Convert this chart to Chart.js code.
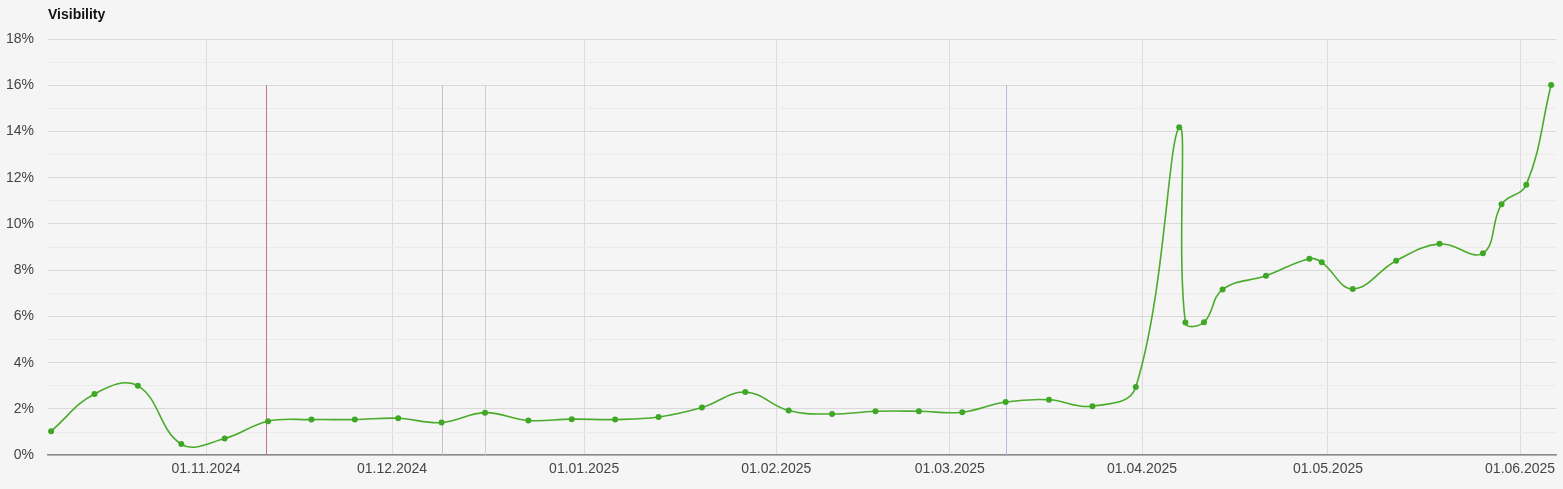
<!DOCTYPE html>
<html>
<head>
<meta charset="utf-8">
<script src="https://cdn.jsdelivr.net/npm/chart.js@4"></script>
<style>
    html, body { margin: 0; padding: 0; background: #f5f5f5; }
    #wrap { position: relative; width: 1563px; height: 489px; }
    #title {
        position: absolute; left: 48px; top: 6px;
        font: bold 14px "Liberation Sans", Arial, sans-serif; color: #111;
    }
</style>
</head>
<body>
<div id="wrap">
    <div id="title">Visibility</div>
    <canvas id="visChart"></canvas>
</div>
<script>
/* ---------------------------------------------------
    Data
---------------------------------------------------*/
const pointDates = [
    "2024-10-07", "2024-10-14", "2024-10-21", "2024-10-28", "2024-11-04",
    "2024-11-11", "2024-11-18", "2024-11-25", "2024-12-02", "2024-12-09",
    "2024-12-16", "2024-12-23", "2024-12-30", "2025-01-06", "2025-01-13",
    "2025-01-20", "2025-01-27", "2025-02-03", "2025-02-10", "2025-02-17",
    "2025-02-24", "2025-03-03", "2025-03-10", "2025-03-17", "2025-03-24",
    "2025-03-31", "2025-04-07", "2025-04-08", "2025-04-11", "2025-04-14",
    "2025-04-21", "2025-04-28", "2025-04-30", "2025-05-05", "2025-05-12",
    "2025-05-19", "2025-05-26", "2025-05-29", "2025-06-02", "2025-06-06"
];
const visibility = [
    1.04, 2.65, 3.0, 0.48, 0.72,
    1.47, 1.54, 1.54, 1.6, 1.41,
    1.84, 1.5, 1.56, 1.54, 1.65,
    2.06, 2.73, 1.93, 1.78, 1.9,
    1.9, 1.86, 2.3, 2.4, 2.12,
    2.95, 14.18, 5.74, 5.75, 7.17,
    7.76, 8.5, 8.34, 7.19, 8.41,
    9.14, 8.73, 10.85, 11.7, 16.01
];

// month ticks on the x axis
const xTickDates = [
    "2024-11-01", "2024-12-01", "2025-01-01", "2025-02-01",
    "2025-03-01", "2025-04-01", "2025-05-01", "2025-06-01"
];
const yTickValues = [0, 2, 4, 6, 8, 10, 12, 14, 16, 18];

// event markers (vertical lines)
const eventDates = ["2024-11-10T16:00", "2024-12-09", "2024-12-16", "2025-03-10"];
const eventColors = ["#c07888", "#d2bad4", "#bed6cd", "#b2bedd"];
const eventTop = 16;

const axisStart = "2024-10-06T12:00";
const axisEnd = "2025-06-06T19:00";

/* ---------------------------------------------------
    Helpers
---------------------------------------------------*/
const DAY = 86400000;
function toDay(s) {
    const d = new Date(s.length > 10 ? s + "Z" : s + "T00:00Z");
    return d.getTime() / DAY;
}
function fmtDate(v) {
    const d = new Date(Math.round(v) * DAY);
    const dd = String(d.getUTCDate()).padStart(2, "0");
    const mm = String(d.getUTCMonth() + 1).padStart(2, "0");
    return dd + "." + mm + "." + d.getUTCFullYear();
}

const points = pointDates.map((d, i) => ({ x: toDay(d), y: visibility[i] }));

const bgPlugin = {
    id: "bg",
    beforeDraw(chart) {
        const c = chart.ctx;
        c.save();
        c.fillStyle = "#f5f5f5";
        c.fillRect(0, 0, chart.width, chart.height);
        c.restore();
    }
};

const eventLines = {
    id: "eventLines",
    beforeDatasetsDraw(chart) {
        const c = chart.ctx;
        const xs = chart.scales.x, ys = chart.scales.y;
        c.save();
        c.lineWidth = 1;
        eventDates.forEach((d, i) => {
            const x = Math.round(xs.getPixelForValue(toDay(d))) + 0.5;
            c.strokeStyle = eventColors[i];
            c.beginPath();
            c.moveTo(x, ys.getPixelForValue(eventTop));
            c.lineTo(x, ys.getPixelForValue(0));
            c.stroke();
        });
        c.restore();
    }
};

Chart.defaults.font.family = '"Liberation Sans", Arial, sans-serif';
Chart.defaults.font.size = 14;
Chart.defaults.color = "#444";

new Chart(document.getElementById("visChart"), {
    type: "line",
    data: {
        datasets: [{
            label: "Visibility",
            data: points,
            borderColor: "#4aab2c",
            borderWidth: 1.6,
            backgroundColor: "#3ea826",
            pointRadius: 3,
            pointBorderWidth: 0,
            pointBackgroundColor: "#3ea826",
            tension: 0.4,
            fill: false
        }]
    },
    options: {
        responsive: true,
        maintainAspectRatio: false,
        animation: false,
        layout: { padding: { top: 39, right: 7, bottom: 5, left: 0 } },
        plugins: {
            legend: { display: false },
            tooltip: { enabled: false }
        },
        scales: {
            x: {
                type: "linear",
                min: toDay(axisStart),
                max: toDay(axisEnd),
                afterBuildTicks(scale) {
                    scale.ticks = xTickDates.map(d => ({ value: toDay(d) }));
                },
                ticks: {
                    autoSkip: false,
                    maxRotation: 0,
                    padding: 6,
                    callback: v => fmtDate(v)
                },
                grid: { color: "#dcdcdc", drawTicks: false },
                border: { display: true, color: "#8a8a8a", width: 1.5 }
            },
            y: {
                min: 0,
                max: 18,
                afterFit(scale) { scale.width = 48; },
                afterBuildTicks(scale) {
                    const t = [];
                    for (let v = 0; v <= 18; v++) t.push({ value: v });
                    scale.ticks = t;
                },
                ticks: {
                    padding: 14,
                    callback: v => yTickValues.includes(v) ? v + "%" : ""
                },
                grid: {
                    drawTicks: false,
                    color: ctx => (ctx.tick && ctx.tick.value % 2 === 0) ? "#d9d9d9" : "#ebebeb"
                },
                border: { display: false }
            }
        }
    },
    plugins: [bgPlugin, eventLines]
});
</script>
</body>
</html>
